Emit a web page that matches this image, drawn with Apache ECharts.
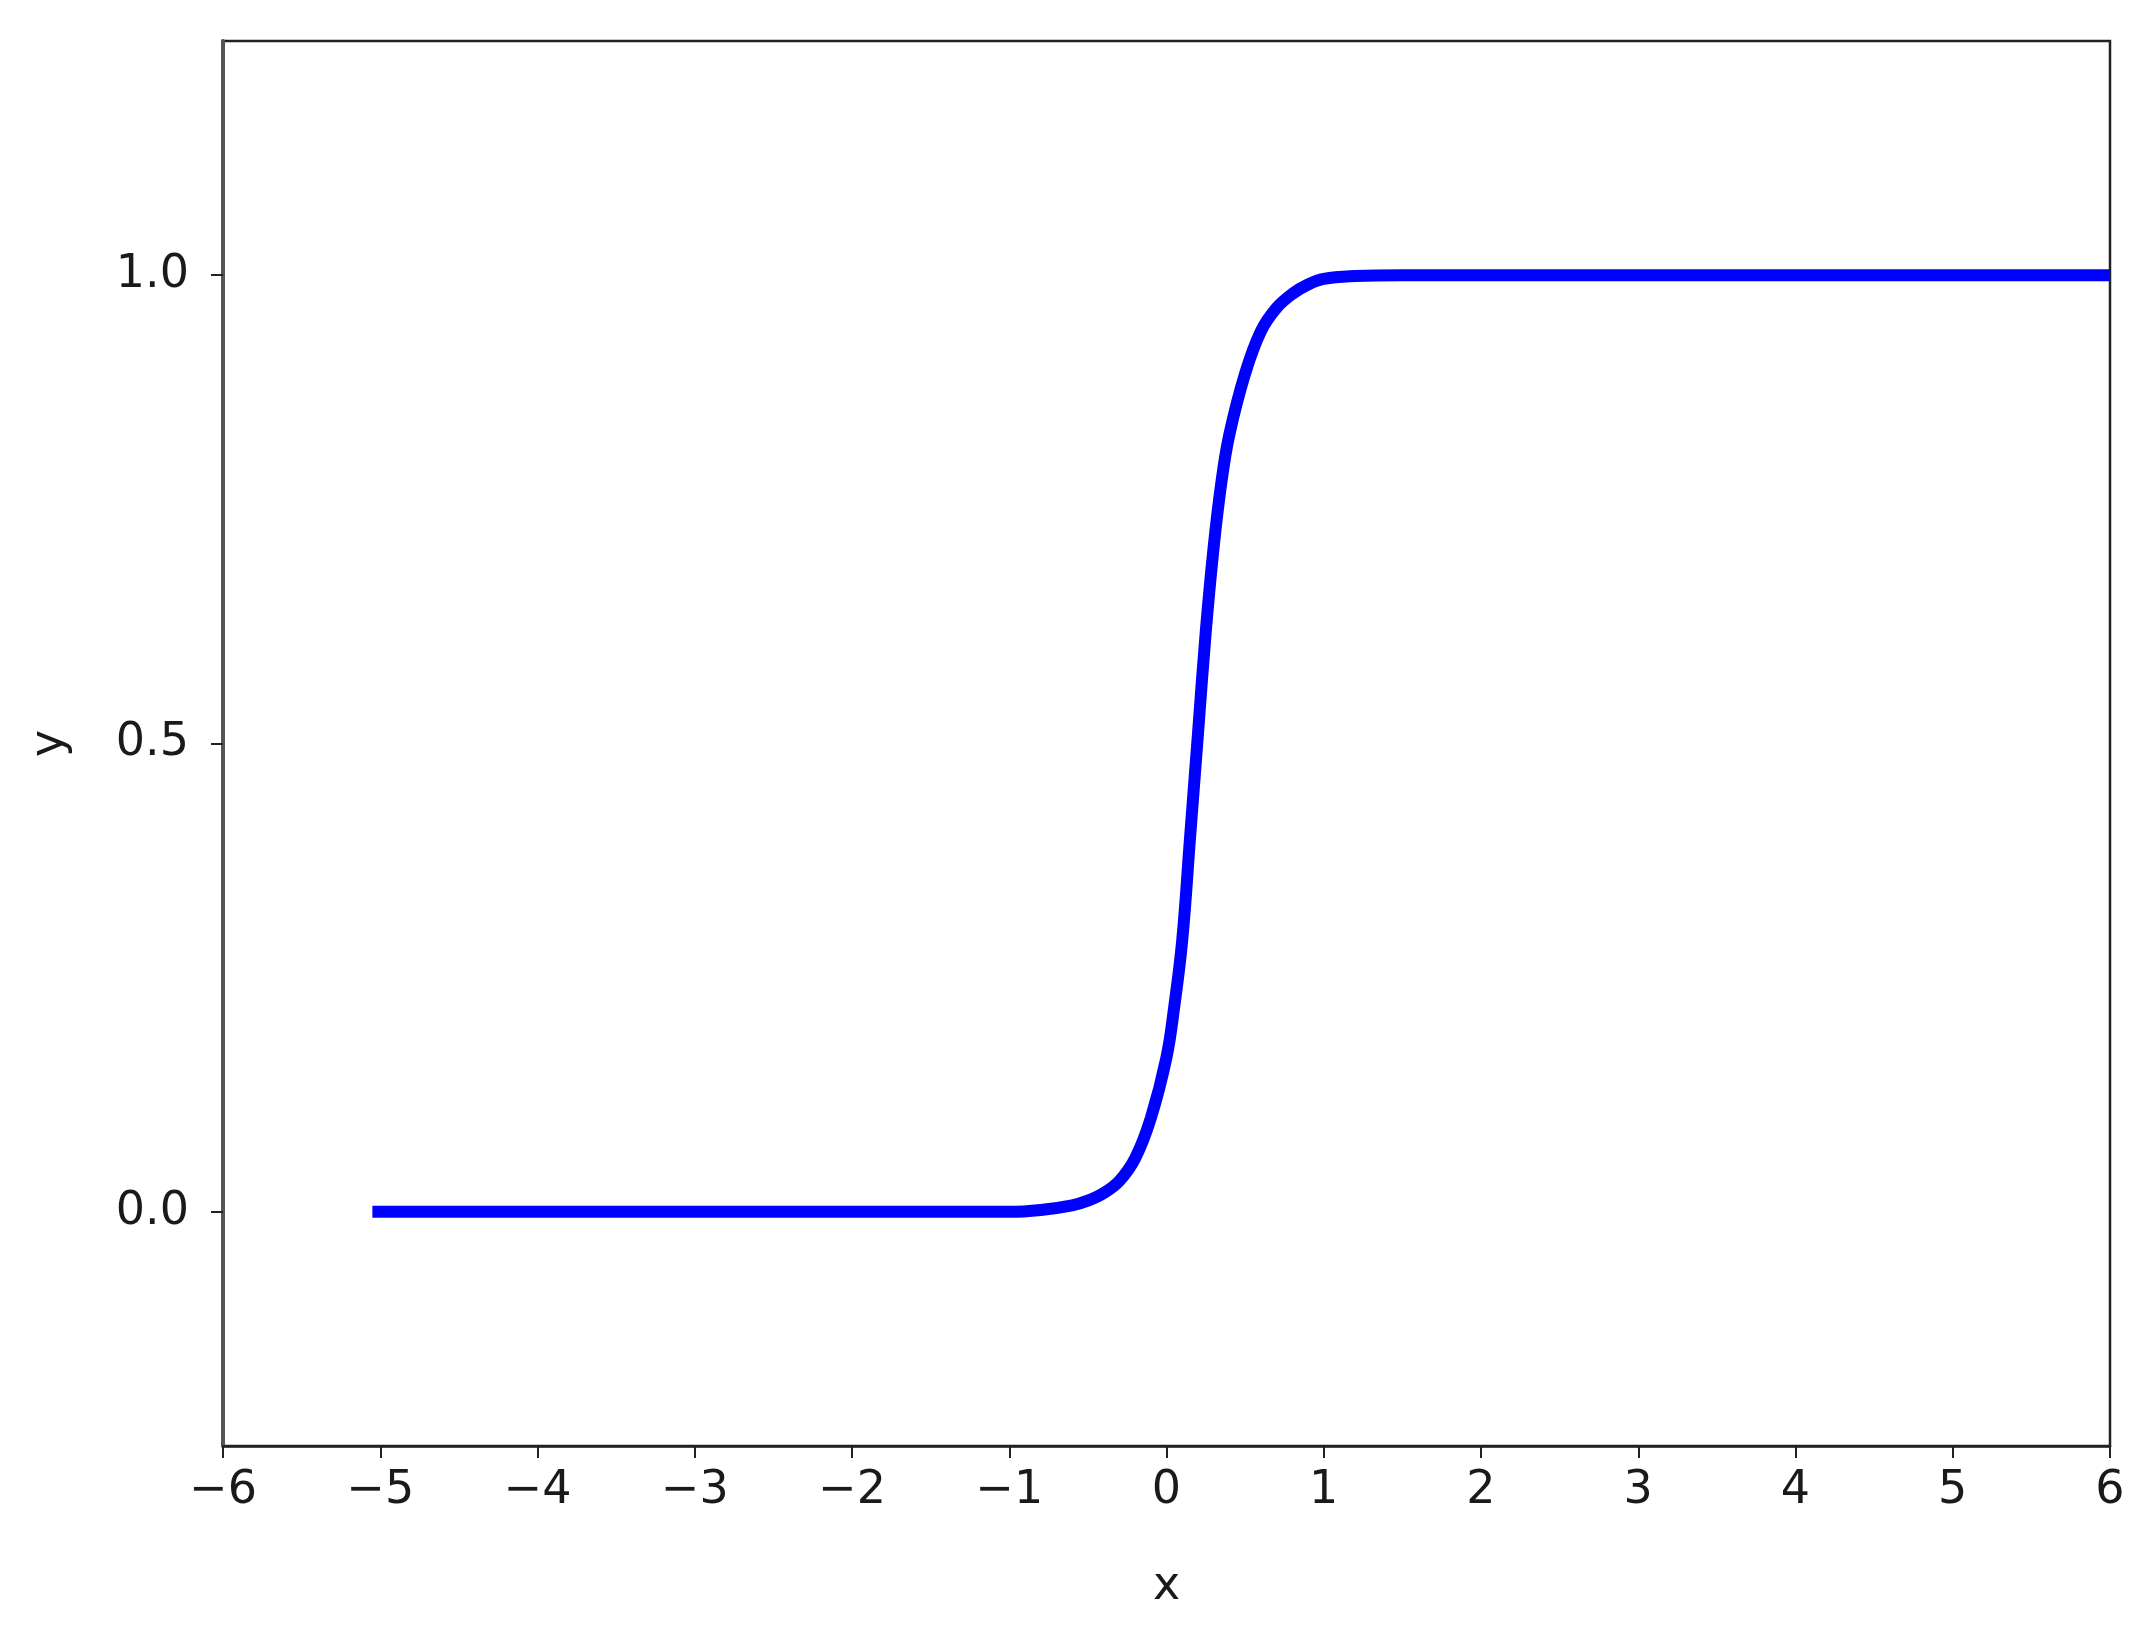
<!doctype html>
<html lang="en">
<head>
    <meta charset="utf-8" />
    <title>sigmoid</title>
    <script src="https://cdn.jsdelivr.net/npm/echarts@6/dist/echarts.min.js"></script>
    <style type="text/css">
        html, body { margin: 0; padding: 0; background: #fff; }
        #chart { width: 2155px; height: 1634px; }
    </style>
</head>
<body>
<div id="chart"></div>
<script>
    // values
    var xValues = [-5.05, -4, -3, -2, -1.5, -1, -0.8, -0.6, -0.5, -0.4, -0.3, -0.2, -0.1, 0,
        0.05, 0.1, 0.15, 0.2, 0.25, 0.3, 0.35, 0.4, 0.5, 0.6, 0.7, 0.8, 0.9, 1.0, 1.2, 1.5, 2, 3, 4, 5, 6];
    var yValues = [0, 0, 0, 0, 0, 0, 0.002, 0.007, 0.012, 0.02, 0.033, 0.057, 0.1, 0.165,
        0.22, 0.29, 0.4, 0.51, 0.62, 0.71, 0.78, 0.83, 0.895, 0.94, 0.965, 0.98, 0.99, 0.996, 0.999, 1, 1, 1, 1, 1, 1];
    var yTicks = [0, 0.5, 1.0];

    var points = [];
    for (var i = 0; i < xValues.length; i++) {
        points.push([xValues[i], yValues[i]]);
    }

    var textColor = '#1a1a1a';
    var fontFamily = 'DejaVu Sans';

    var chart = echarts.init(document.getElementById('chart'));
    var option = {
        animation: false,
        backgroundColor: '#fff',
        grid: {
            left: 223,
            right: 45,
            top: 41,
            bottom: 188,
            show: true,
            borderColor: '#222',
            borderWidth: 2.5,
            backgroundColor: 'transparent'
        },
        xAxis: {
            type: 'value',
            min: -6,
            max: 6,
            interval: 1,
            name: 'x',
            nameLocation: 'middle',
            nameGap: 118,
            nameTextStyle: { color: textColor, fontSize: 46, fontFamily: fontFamily },
            splitLine: { show: false },
            axisLine: { show: true, onZero: false, lineStyle: { color: '#222', width: 2.5 } },
            axisTick: { show: true, length: 12, lineStyle: { color: '#222', width: 2 } },
            axisLabel: {
                color: textColor,
                fontSize: 46,
                fontFamily: fontFamily,
                margin: 22,
                formatter: function (v) {
                    return v < 0 ? '\u2212' + Math.abs(v) : String(v);
                }
            }
        },
        yAxis: {
            type: 'value',
            min: -0.25,
            max: 1.25,
            name: 'y',
            nameLocation: 'middle',
            nameGap: 150,
            nameTextStyle: { color: textColor, fontSize: 46, fontFamily: fontFamily },
            splitLine: { show: false },
            axisLine: { show: true, onZero: false, lineStyle: { color: '#555', width: 4 } },
            axisTick: { show: true, length: 12, customValues: yTicks, lineStyle: { color: '#222', width: 2 } },
            axisLabel: {
                color: textColor,
                fontSize: 46,
                fontFamily: fontFamily,
                margin: 34,
                customValues: yTicks,
                formatter: function (v) { return v.toFixed(1); }
            }
        },
        series: [{
            type: 'line',
            data: points,
            showSymbol: false,
            smooth: 0.4,
            lineStyle: { color: '#0000ff', width: 12, join: 'round', cap: 'butt' },
            itemStyle: { color: '#0000ff' }
        }]
    };
    chart.setOption(option);
</script>
</body>
</html>
